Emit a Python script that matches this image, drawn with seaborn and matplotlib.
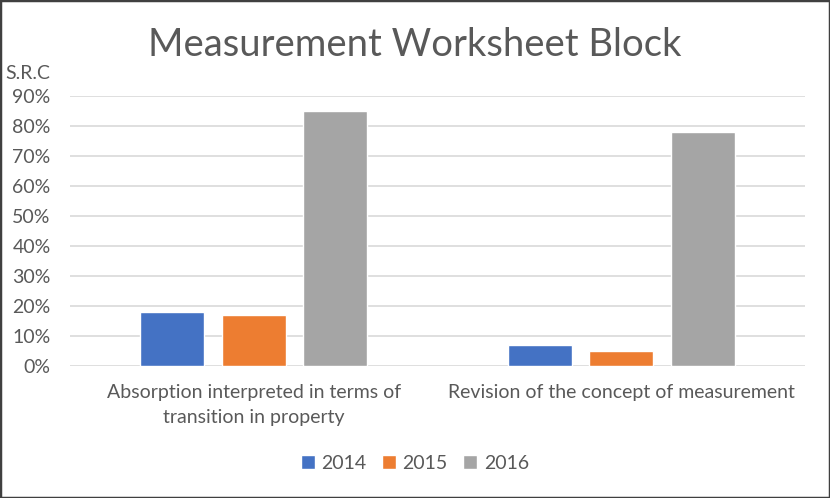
import matplotlib
matplotlib.use('Agg')
import matplotlib.pyplot as plt
import seaborn as sns
import pandas as pd
from matplotlib.patches import Rectangle
from matplotlib.ticker import PercentFormatter

categories = ['Absorption interpreted in terms of\ntransition in property',
              'Revision of the concept of measurement']
years = ['2014', '2015', '2016']
values_2014 = [0.18, 0.07]
values_2015 = [0.17, 0.05]
values_2016 = [0.85, 0.78]
colors = ['#4472C4', '#ED7D31', '#A5A5A5']

rows = []
for yr, vals in zip(years, [values_2014, values_2015, values_2016]):
    for cat, v in zip(categories, vals):
        rows.append({'category': cat, 'year': yr, 'value': v})
df = pd.DataFrame(rows)

sns.set_theme(style='white')
plt.rcParams['font.family'] = ['Lato', 'DejaVu Sans']

fig = plt.figure(figsize=(8.3, 4.98), dpi=100)
ax = fig.add_axes([70 / 830, 1 - 366 / 498, 735 / 830, (366 - 96.3) / 498])

sns.barplot(data=df, x='category', y='value', hue='year', palette=colors,
            width=0.665, gap=0.21, ax=ax, legend=True, saturation=1)

ax.set_ylim(0, 0.9)
ax.set_yticks([i / 10 for i in range(10)])
ax.yaxis.set_major_formatter(PercentFormatter(1.0, decimals=0))
ax.set_xlim(-0.5, 1.5)
ax.grid(axis='y', color='#D9D9D9', linewidth=1.2)
ax.set_axisbelow(True)
for s in ax.spines.values():
    s.set_visible(False)
ax.set_xlabel('')
ax.set_ylabel('')
ax.tick_params(axis='both', length=0, labelsize=14, labelcolor='#595959')
ax.tick_params(axis='y', pad=14)
ax.tick_params(axis='x', pad=13)
for lbl in ax.get_xticklabels():
    lbl.set_linespacing(1.6)

ax.legend(loc='center', bbox_to_anchor=(0.5, 1 - 463 / 498), bbox_transform=fig.transFigure,
          ncol=3, frameon=False, fontsize=14, labelcolor='#595959',
          handlelength=0.7, handleheight=0.7, handletextpad=0.35, columnspacing=0.8)

fig.text(0.5, 1 - 45 / 498, 'Measurement Worksheet Block', ha='center', va='center',
         fontsize=27.5, color='#595959')
fig.text(5 / 830, 1 - 73 / 498, 'S.R.C', ha='left', va='center',
         fontsize=14, color='#595959')

fig.patches.append(Rectangle((0, 0), 1, 1, transform=fig.transFigure, fill=False,
                             edgecolor='#404040', linewidth=2.5))

fig.savefig('out.png', dpi=100)
